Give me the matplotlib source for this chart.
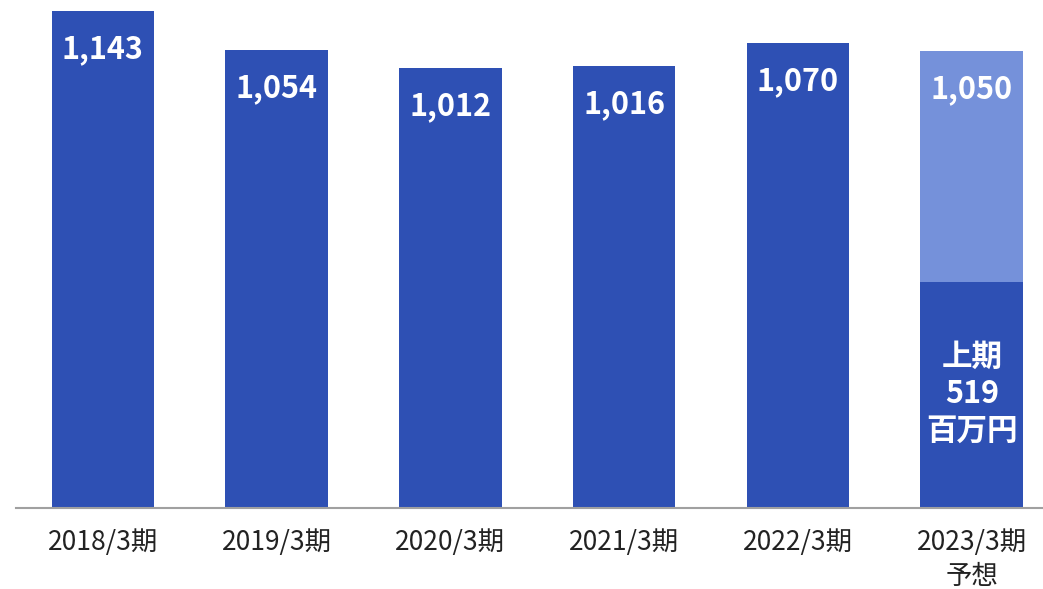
import matplotlib.pyplot as plt

plt.rcParams['font.family'] = ['Noto Sans CJK JP', 'DejaVu Sans']

periods = ["2018/3期", "2019/3期", "2020/3期", "2021/3期", "2022/3期", "2023/3期\n予想"]
full_year = [1143, 1054, 1012, 1016, 1070, 1050]
first_half_2023 = 519

dark = "#2E50B4"
light = "#7591DA"

fig = plt.figure(figsize=(10.43, 5.89), dpi=100)
ax = fig.add_axes([16 / 1043, 81 / 589, 1027 / 1043, 508 / 589])

x = list(range(len(periods)))
colors = [dark] * 5 + [light]
ax.bar(x, full_year, width=0.59, color=colors)
ax.bar([x[-1]], [first_half_2023], width=0.59, color=dark)

for xi, v in zip(x, full_year):
    ax.text(xi, v - 88, f"{v:,}", ha="center", va="center", color="white",
            fontsize=22, fontweight="bold")

ax.text(x[-1], 262, f"上期\n{first_half_2023}\n百万円", ha="center", va="center",
        color="white", fontsize=22, fontweight="bold", linespacing=1.2)

ax.set_xlim(-0.5, 5.41)
ax.set_ylim(0, 1168)
ax.set_xticks(x)
ax.set_xticklabels(periods, fontsize=19, color="#222222", linespacing=1.32)
ax.tick_params(axis="x", length=0, pad=15)
ax.set_yticks([])
for s in ["top", "right", "left"]:
    ax.spines[s].set_visible(False)
ax.spines["bottom"].set_color("#A0A0A0")
ax.spines["bottom"].set_linewidth(1.5)

fig.savefig("out.png", dpi=100)
